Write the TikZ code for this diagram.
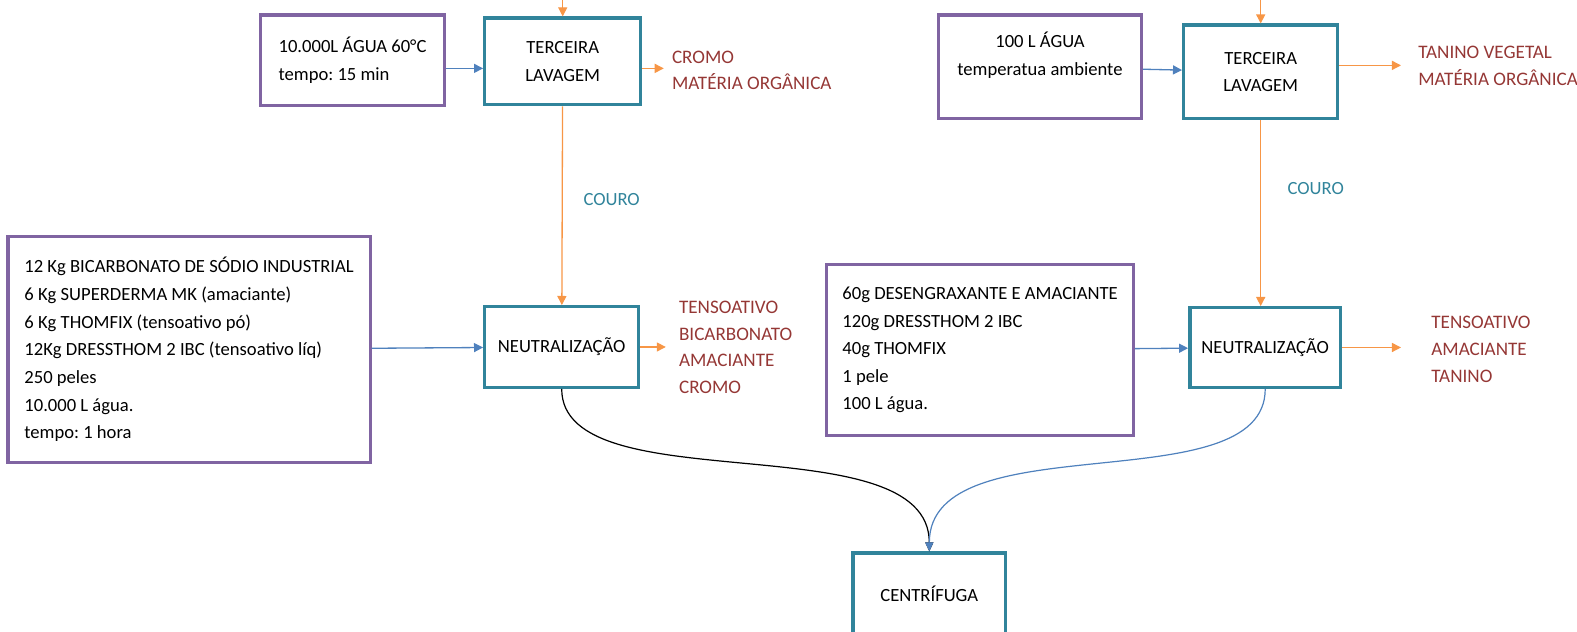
\documentclass[tikz,border=0pt]{standalone}
\usepackage{fontspec}
\setmainfont{Carlito}
\usepackage{tikz}
\usepackage{xcolor}
\usetikzlibrary{arrows.meta}

\definecolor{roxo}{HTML}{8064A2}
\definecolor{petroleo}{HTML}{31849B}
\definecolor{laranja}{HTML}{F79646}
\definecolor{azul}{HTML}{4F81BD}
\definecolor{vinho}{HTML}{953735}

\frenchspacing

\begin{document}
\begin{tikzpicture}[x=1pt,y=-1pt]
			\tikzstyle{every node}+=[inner sep=0pt, font=\fontsize{18.5}{27.5}\selectfont]
			\tikzstyle{entrada}=[draw=roxo, line width=3.2pt, align=left]
			\tikzstyle{etapa}=[draw=petroleo, line width=3.4pt, align=center]
			\tikzstyle{residuo}=[text=vinho, anchor=west, align=left, font=\fontsize{19}{26.5}\selectfont]
			\tikzstyle{setalar}=[draw=laranja, line width=1.3pt, -{Triangle[length=9pt,width=9pt]}]
			\tikzstyle{setaazul}=[draw=azul, line width=1.3pt, -{Triangle[length=9pt,width=9pt]}]
			\useasboundingbox (0,0) rectangle (1568,628);
			\clip (0,0) rectangle (1568,628);
			% curtimento ao cromo
			\node [entrada, minimum width=183, minimum height=90] (agua1) at (350.5,60) {10.000L ÁGUA 60°C\\tempo: 15 min};
			\node [etapa, minimum width=155, minimum height=86] (lav1) at (559.5,61) {TERCEIRA\\LAVAGEM};
			\node [residuo] (res1) at (668,70) {CROMO\\MATÉRIA ORGÂNICA};
			\node [entrada, minimum width=360, minimum height=225] (quim1) at (188,347.5) {12 Kg BICARBONATO DE SÓDIO INDUSTRIAL\\6 Kg SUPERDERMA MK (amaciante)\\6 Kg THOMFIX (tensoativo pó)\\12Kg DRESSTHOM 2 IBC (tensoativo líq)\\250 peles\\10.000 L água.\\tempo: 1 hora};
			\node [etapa, minimum width=153, minimum height=80] (neu1) at (558.5,345) {NEUTRALIZAÇÃO};
			\node [residuo] (res2) at (675,345.5) {TENSOATIVO\\BICARBONATO\\AMACIANTE\\CROMO};
			\node [text=petroleo, anchor=west] (couro1) at (580,198) {COURO};
			\coordinate (topo1) at (559.5,0);
			\coordinate (saida1) at (660,68);
			\coordinate (saida2) at (662,345);
			% curtimento vegetal
			\node [entrada, minimum width=202, minimum height=103] (agua2) at (1034,66.5) {};
			\node [align=center] (agua2txt) at (1034,55) {100 L ÁGUA\\temperatua ambiente};
			\node [etapa, minimum width=153, minimum height=93] (lav2) at (1253.5,71.5) {TERCEIRA\\LAVAGEM};
			\node [residuo] (res3) at (1410,65.5) {TANINO VEGETAL\\MATÉRIA ORGÂNICA};
			\node [entrada, minimum width=305, minimum height=170] (quim2) at (974.5,348) {60g DESENGRAXANTE E AMACIANTE\\120g DRESSTHOM 2 IBC\\40g THOMFIX\\1 pele\\100 L água.};
			\node [etapa, minimum width=150, minimum height=79] (neu2) at (1258,345.5) {NEUTRALIZAÇÃO};
			\node [residuo] (res4) at (1423,347.5) {TENSOATIVO\\AMACIANTE\\TANINO};
			\node [text=petroleo, anchor=west] (couro2) at (1280,187) {COURO};
			\coordinate (topo2) at (1253.5,0);
			\coordinate (saida3) at (1393,65);
			\coordinate (saida4) at (1393,345.5);
			% final
			\node [etapa, minimum width=152, minimum height=100] (centr) at (924,600) {};
			\node (centrtxt) at (924,590) {CENTRÍFUGA};
			% setas
			\draw [setalar] (topo1) -- (lav1);
			\draw [setaazul] (agua1.east |- saida1) -- (lav1.west |- saida1);
			\draw [setalar] (lav1.east |- saida1) -- (saida1);
			\draw [setalar] (lav1) -- (neu1);
			\draw [setaazul] (quim1) -- (neu1);
			\draw [setalar] (neu1) -- (saida2);
			\draw [setalar] (topo2) -- (lav2);
			\draw [setaazul] (agua2) -- (lav2);
			\draw [setalar] (lav2.east |- saida3) -- (saida3);
			\draw [setalar] (lav2.south) -- (lav2.south |- neu2.north);
			\draw [setaazul] (quim2) -- (neu2);
			\draw [setalar] (neu2) -- (saida4);
			\draw [line width=1.2pt, -{Triangle[length=9pt,width=8pt]}] (neu1.south) .. controls +(0,115) and +(0,-130) .. (centr.north);
			\draw [azul, line width=1.2pt, -{Triangle[length=9pt,width=8pt]}] (neu2.south) .. controls +(0,115) and +(0,-130) .. (centr.north);
		\end{tikzpicture}
\end{document}
